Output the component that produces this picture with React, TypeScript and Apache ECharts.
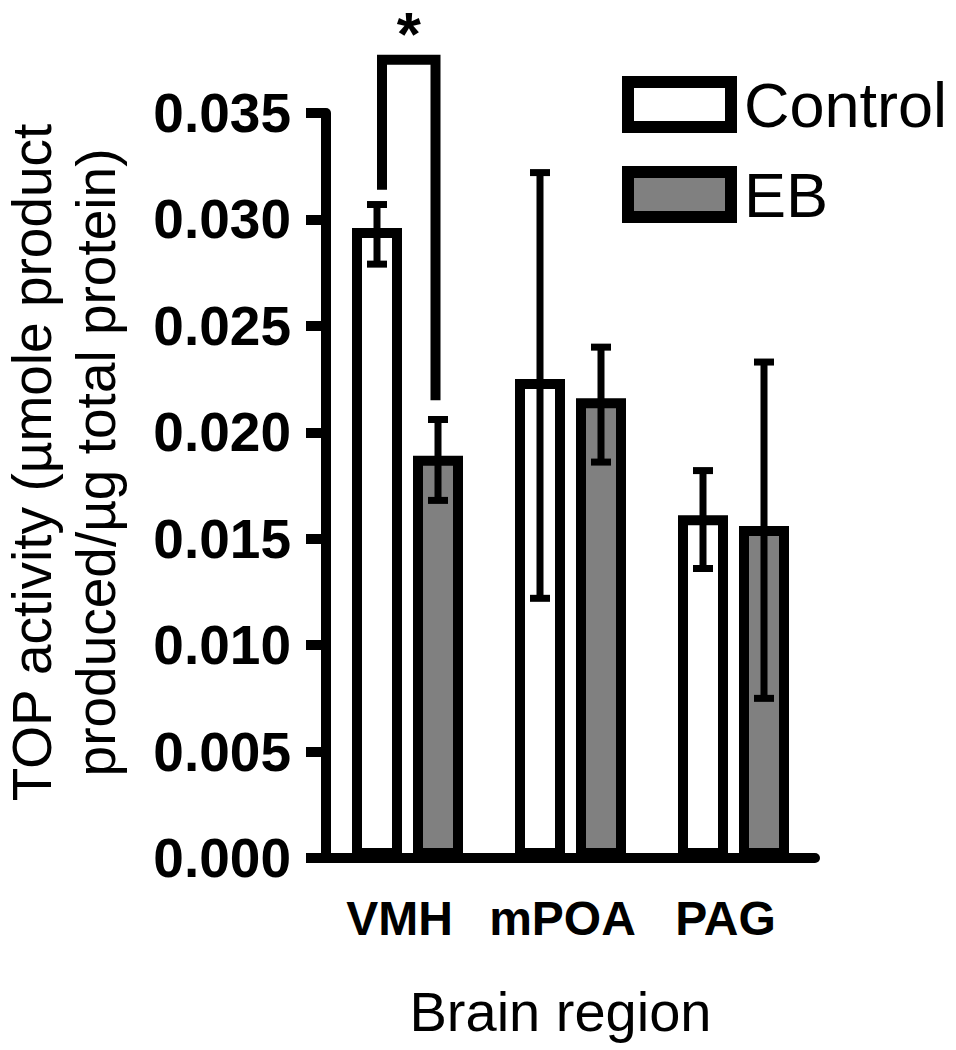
import React, { useEffect, useRef } from 'react';
import * as echarts from 'echarts';

const categories = ['VMH', 'mPOA', 'PAG'];
const seriesNames = ['Control', 'EB'];
const controlValues = [0.0296, 0.0225, 0.0161];
const controlLow = [0.0279, 0.0122, 0.0136];
const controlHigh = [0.0307, 0.0322, 0.0182];
const ebValues = [0.0189, 0.0216, 0.0156];
const ebLow = [0.0168, 0.0186, 0.0075];
const ebHigh = [0.0206, 0.024, 0.0233];
// significance bracket: [category index, bracket top, left end, right end]
const significanceBracket = [0, 0.0375, 0.0314, 0.0215];
const significanceLabel = '*';

const FONT = '"Liberation Sans", Arial, Helvetica, sans-serif';
const BAR_WIDTH = 50;
const BAR_GAP = 0.22;
const OFFSET = (BAR_WIDTH * (1 + BAR_GAP)) / 2;

function errorRender(offset: number) {
  return (params: any, api: any) => {
    const i = api.value(0);
    const top = api.coord([i, api.value(2)]);
    const bot = api.coord([i, api.value(1)]);
    const x = top[0] + offset;
    const cap = 10;
    const style = { stroke: '#000', lineWidth: 7, lineCap: 'butt' };
    return {
      type: 'group',
      children: [
        { type: 'line', shape: { x1: x, y1: top[1], x2: x, y2: bot[1] }, style },
        { type: 'line', shape: { x1: x - cap, y1: top[1], x2: x + cap, y2: top[1] }, style },
        { type: 'line', shape: { x1: x - cap, y1: bot[1], x2: x + cap, y2: bot[1] }, style },
      ],
    };
  };
}

function bracketRender(params: any, api: any) {
  const c = api.value(0);
  const topY = api.coord([c, api.value(1)])[1];
  const lY = api.coord([c, api.value(2)])[1];
  const rY = api.coord([c, api.value(3)])[1];
  const cx = api.coord([c, 0])[0];
  const xl = cx - OFFSET + 5;
  const xr = cx + OFFSET - 2.5;
  return {
    type: 'group',
    children: [
      {
        type: 'polyline',
        shape: { points: [[xl, lY], [xl, topY], [xr, topY], [xr, rY]] },
        style: { stroke: '#000', lineWidth: 10, fill: 'none', lineJoin: 'miter' },
      },
      {
        type: 'text',
        x: (xl + xr) / 2,
        y: topY - 26,
        style: {
          text: significanceLabel,
          fontSize: 62,
          lineHeight: 62,
          fontWeight: 'bold',
          fontFamily: FONT,
          fill: '#000',
          align: 'center',
          verticalAlign: 'middle',
        },
      },
    ],
  };
}

export default function App() {
  const ref = useRef<HTMLDivElement>(null);
  useEffect(() => {
    if (!ref.current) return;
    const chart = echarts.init(ref.current, undefined, { renderer: 'svg' });
    chart.setOption({
      animation: false,
      backgroundColor: '#fff',
      grid: {
        left: 326,
        top: 113,
        width: 489,
        height: 745,
        containLabel: false,
        outerBoundsMode: 'none',
      },
      legend: {
        data: seriesNames,
        orient: 'vertical',
        left: 622,
        top: 73,
        padding: 0,
        itemWidth: 103,
        itemHeight: 45,
        itemGap: 27,
        icon: 'rect',
        selectedMode: false,
        itemStyle: { borderWidth: 12, borderColor: '#000' },
        textStyle: { fontSize: 63, color: '#000', fontFamily: FONT, padding: [0, 0, 0, 8] },
      },
      xAxis: {
        type: 'category',
        data: categories,
        axisLine: { lineStyle: { color: '#000', width: 10 } },
        axisTick: { alignWithLabel: true, length: 20, lineStyle: { color: '#000', width: 10 } },
        axisLabel: {
          interval: 0,
          fontSize: 48,
          fontWeight: 'bold',
          color: '#000',
          fontFamily: FONT,
          margin: 36,
          padding: [0, 16, 0, 0],
        },
        name: 'Brain region',
        nameLocation: 'middle',
        nameGap: 125,
        nameTextStyle: { fontSize: 56, color: '#000', fontFamily: FONT, padding: [0, 20, 0, 0] },
      },
      yAxis: {
        type: 'value',
        min: 0,
        max: 0.035,
        interval: 0.005,
        axisLine: { show: true, lineStyle: { color: '#000', width: 10 } },
        axisTick: { show: true, length: 20, lineStyle: { color: '#000', width: 10 } },
        splitLine: { show: false },
        axisLabel: {
          formatter: (v: number) => v.toFixed(3),
          fontSize: 55,
          fontWeight: 'bold',
          color: '#000',
          fontFamily: FONT,
          margin: 35,
        },
        name: 'TOP activity (µmole product\nproduced/µg total protein)',
        nameLocation: 'middle',
        nameRotate: 90,
        nameGap: 198,
        nameTextStyle: { fontSize: 55, lineHeight: 64, color: '#000', fontFamily: FONT, padding: [0, 0, 0, 46] },
      },
      series: [
        {
          name: seriesNames[0],
          type: 'bar',
          data: controlValues,
          barWidth: BAR_WIDTH,
          barGap: BAR_GAP * 100 + '%',
          itemStyle: { color: '#fff', borderColor: '#000', borderWidth: 10 },
        },
        {
          name: seriesNames[1],
          type: 'bar',
          data: ebValues,
          barWidth: BAR_WIDTH,
          barGap: BAR_GAP * 100 + '%',
          itemStyle: { color: '#808080', borderColor: '#000', borderWidth: 10 },
        },
        {
          type: 'custom',
          z: 5,
          encode: { x: 0, y: [1, 2] },
          data: controlValues.map((m, i) => [i, controlLow[i], controlHigh[i]]),
          renderItem: errorRender(-OFFSET),
        },
        {
          type: 'custom',
          z: 5,
          encode: { x: 0, y: [1, 2] },
          data: ebValues.map((m, i) => [i, ebLow[i], ebHigh[i]]),
          renderItem: errorRender(OFFSET),
        },
        {
          type: 'custom',
          z: 5,
          clip: false,
          encode: { x: 0, y: 1 },
          data: [significanceBracket],
          renderItem: bracketRender,
        },
      ],
    });
    return () => chart.dispose();
  }, []);
  return (
    <div
      ref={ref}
      style={{ position: 'fixed', left: 0, top: 0, width: 956, height: 1050 }}
    />
  );
}
